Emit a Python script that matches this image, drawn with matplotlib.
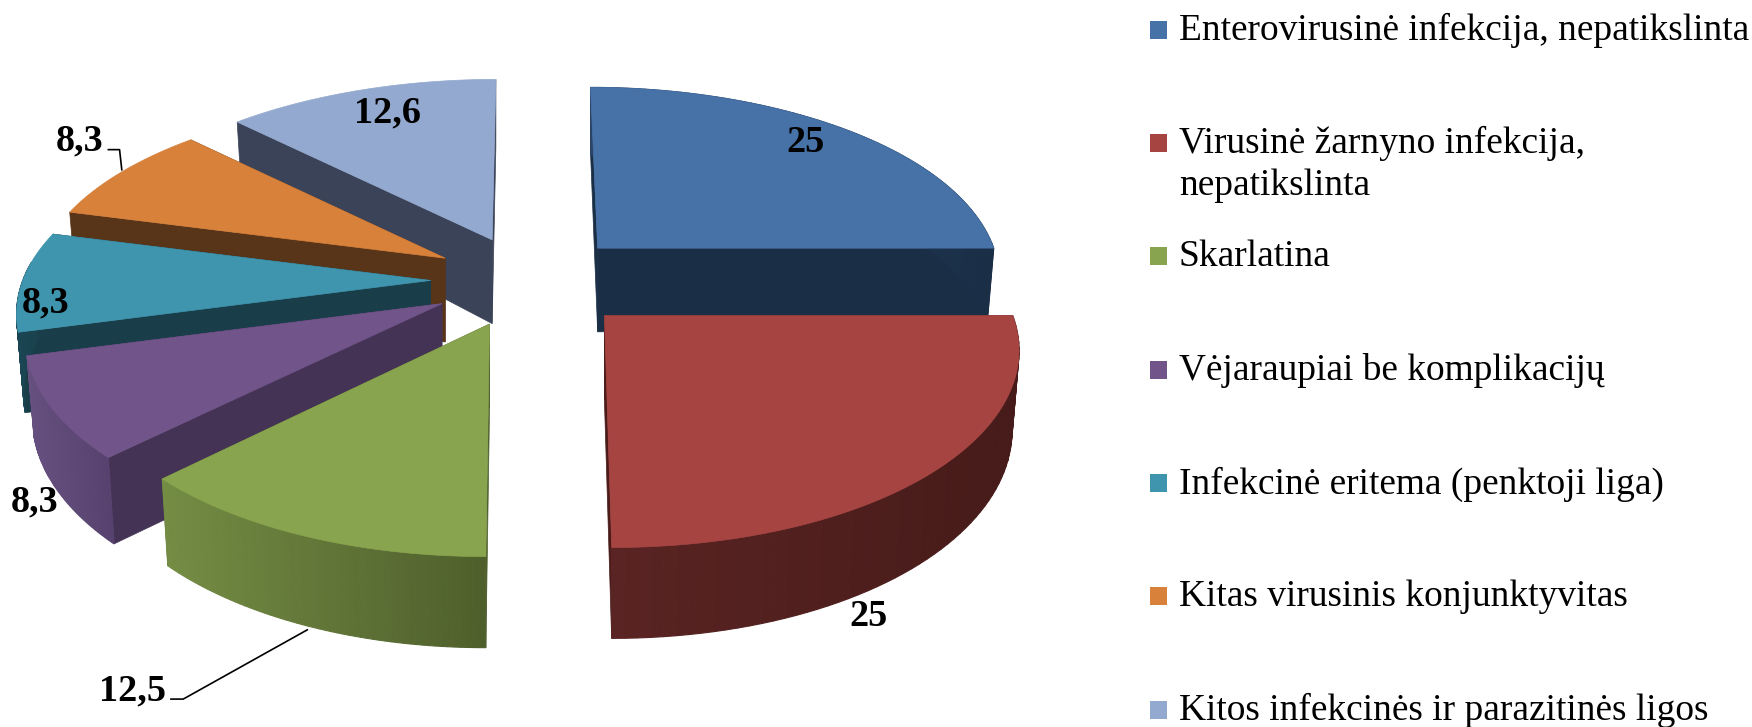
import numpy as np
import matplotlib
matplotlib.use("Agg")
import matplotlib.pyplot as plt
from matplotlib.patches import Polygon, Rectangle
from matplotlib.colors import to_rgb

# chart data
categories = [
    "Enterovirusinė infekcija, nepatikslinta",
    "Virusinė žarnyno infekcija,\nnepatikslinta",
    "Skarlatina",
    "Vėjaraupiai be komplikacijų",
    "Infekcinė eritema (penktoji liga)",
    "Kitas virusinis konjunktyvitas",
    "Kitos infekcinės ir parazitinės ligos",
]
values = [25, 25, 12.5, 8.3, 8.3, 8.3, 12.6]
value_labels = ["25", "25", "12,5", "8,3", "8,3", "8,3", "12,6"]

top_colors = ["#4672A8", "#A64442", "#88A44E", "#71558A", "#4095AE", "#D7813B", "#93A9CF"]
cut_colors = ["#1A2E46", "#4A1B19", "#4F6030", "#443355", "#193D49", "#583418", "#3B4358"]
rim_left = ["#2A4468", "#5A2423", "#748D44", "#66507F", "#1A4552", "#8C5326", "#5F7090"]
rim_right = ["#1A2E46", "#461B19", "#4F5F2C", "#57426F", "#193D49", "#583418", "#3B4358"]

# pixel positions in the shrunk 1568x651 frame
CX, CY = 473, 251
RX, RY, K = 365, 170, 0.172
EXPLODE = [0.247, 0.255, 0.24, 0.24, 0.24, 0.24, 0.24]
RX_SCALE = [0.98, 0.992, 0.98, 1.0, 1.0, 1.0, 1.0]
EY_WEIGHT = 0.3
LEAN = 0.1
APEX_DEPTH = 75
RIM_DEPTH = 69.5
SHRINK = 0.983
label_pos = [(720.5, 136), (777, 561), (119, 627), (30.5, 458), (40.7, 280), (71.6, 135), (347, 110)]
legend_y = [26.5, 128, 229.5, 331, 432.5, 534, 635.5]
draw_order = [6, 5, 4, 3, 2, 0, 1]


def blend(a, b, t):
    a, b = np.array(to_rgb(a)), np.array(to_rgb(b))
    return tuple(a + (b - a) * t)


fig = plt.figure(figsize=(17.52, 7.27), dpi=100)
ax = fig.add_axes([0, 0, 1, 1])
ax.set_xlim(0, 1568)
ax.set_ylim(651, 0)
ax.axis("off")

total = sum(values)
edges = np.concatenate([[0], np.cumsum(values)]) / total * 2 * np.pi

for z, i in enumerate(draw_order):
    a0, a1 = edges[i], edges[i + 1]
    mid = (a0 + a1) / 2
    ex, ey = EXPLODE[i] * np.sin(mid), EXPLODE[i] * np.cos(mid)
    w0 = 1 + K * ey
    ox = CX + RX * ex / w0
    oy = CY - RY * ey / w0

    ts = np.linspace(a0, a1, 60)
    w = 1 + K * (np.cos(ts) + EY_WEIGHT * ey)
    px = RX * RX_SCALE[i] * np.sin(ts) / w - RX * ex * LEAN * np.cos(ts) ** 3
    py = -RY * np.cos(ts) / w
    top_x, top_y = ox + px, oy + py
    low_x, low_y = ox + px * SHRINK, oy + py * SHRINK + RIM_DEPTH / w

    # cut faces
    for k in (0, -1):
        ax.add_patch(Polygon(
            [(ox, oy), (top_x[k], top_y[k]), (low_x[k], low_y[k]), (ox, oy + APEX_DEPTH)],
            fc=cut_colors[i], ec=cut_colors[i], lw=0.5, zorder=z * 3 + 1,
        ))

    # rim with a left to right shading
    for j in range(len(ts) - 1):
        if np.cos((ts[j] + ts[j + 1]) / 2) > 0.1 and i != 0:
            continue
        t = (top_x[j] - top_x.min()) / max(np.ptp(top_x), 1)
        col = blend(rim_left[i], rim_right[i], t)
        ax.add_patch(Polygon(
            [(top_x[j], top_y[j]), (top_x[j + 1], top_y[j + 1]),
             (low_x[j + 1], low_y[j + 1]), (low_x[j], low_y[j])],
            fc=col, ec=col, lw=0.8, zorder=z * 3 + 2,
        ))

    ax.add_patch(Polygon(
        np.column_stack([np.r_[ox, top_x], np.r_[oy, top_y]]),
        fc=top_colors[i], ec=top_colors[i], lw=0.5, zorder=z * 3 + 3,
    ))

# value labels
for (x, y), text in zip(label_pos, value_labels):
    ax.text(x, y, text, family="Liberation Serif", fontweight="bold", fontsize=27.5,
            ha="center", va="baseline", color="black", zorder=40)

# leader lines
ax.plot([97, 107, 109], [134, 134, 152], color="black", lw=1.2, zorder=39)
ax.plot([153, 164, 275], [626, 626, 564], color="black", lw=1.2, zorder=39)

# legend
for y, name, col in zip(legend_y, categories, top_colors):
    ax.add_patch(Rectangle((1029, y - 8), 15, 16, fc=col, ec="none"))
    ax.text(1055, y - 15, name, family="Liberation Serif", fontsize=26.9, ha="left", va="top",
            color="black", linespacing=1.27)

fig.savefig("out.png", dpi=100)
